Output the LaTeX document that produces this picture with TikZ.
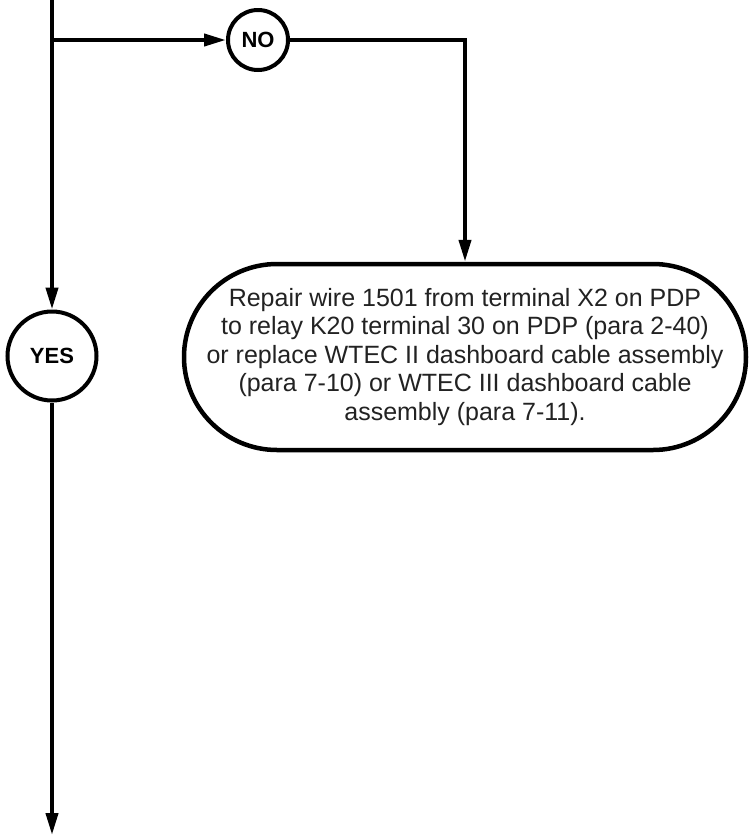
\documentclass[tikz,border=0pt]{standalone}
\usepackage{fontspec}
\setmainfont{Liberation Sans}
\usepackage{xcolor}
\usepackage{tikz}
\usetikzlibrary{arrows.meta,positioning,calc}
\definecolor{ink}{HTML}{000000}
\definecolor{body}{HTML}{222222}
\tikzset{
  >={Triangle[length=22pt,width=12pt]},
  answer/.style={
    circle, draw=ink, line width=4pt, fill=white, text=ink,
    font=\fontsize{22}{24}\selectfont\bfseries, inner sep=0pt
  },
  action/.style={
    rectangle, rounded corners=93pt, draw=ink, line width=4.5pt, fill=white,
    text=body, align=center, inner sep=0pt,
    minimum width=562pt, minimum height=186pt,
    font=\fontsize{25}{28.5}\selectfont
  },
  flow/.style={->, line width=4pt, draw=ink},
  wire/.style={line width=4pt, draw=ink}
}

\begin{document}
\begin{tikzpicture}[x=1pt,y=1pt]
  \useasboundingbox (0,0) rectangle (752,-836);

  % answers
  \node[answer, minimum size=89pt] (yes) at (52,-356) {YES};
  \node[answer, minimum size=60pt] (no)  at (258,-40) {NO};

  % action
  \node[action] (repair) at (465,-357)
    {Repair wire 1501 from terminal X2 on PDP\\
     to relay K20 terminal 30 on PDP (para 2-40)\\
     or replace WTEC II dashboard cable assembly\\
     (para 7-10) or WTEC III dashboard cable\\
     assembly (para 7-11).};

  \coordinate (top)    at (52,0);
  \coordinate (split)  at (52,-40);
  \coordinate (bottom) at (52,-835);

  \draw[flow] (top) -- (yes);
  \draw[flow] (split) -- (no);
  \draw[flow] (no.east) -| (repair.north);
  \draw[flow] (yes) -- (bottom);
\end{tikzpicture}
\end{document}
